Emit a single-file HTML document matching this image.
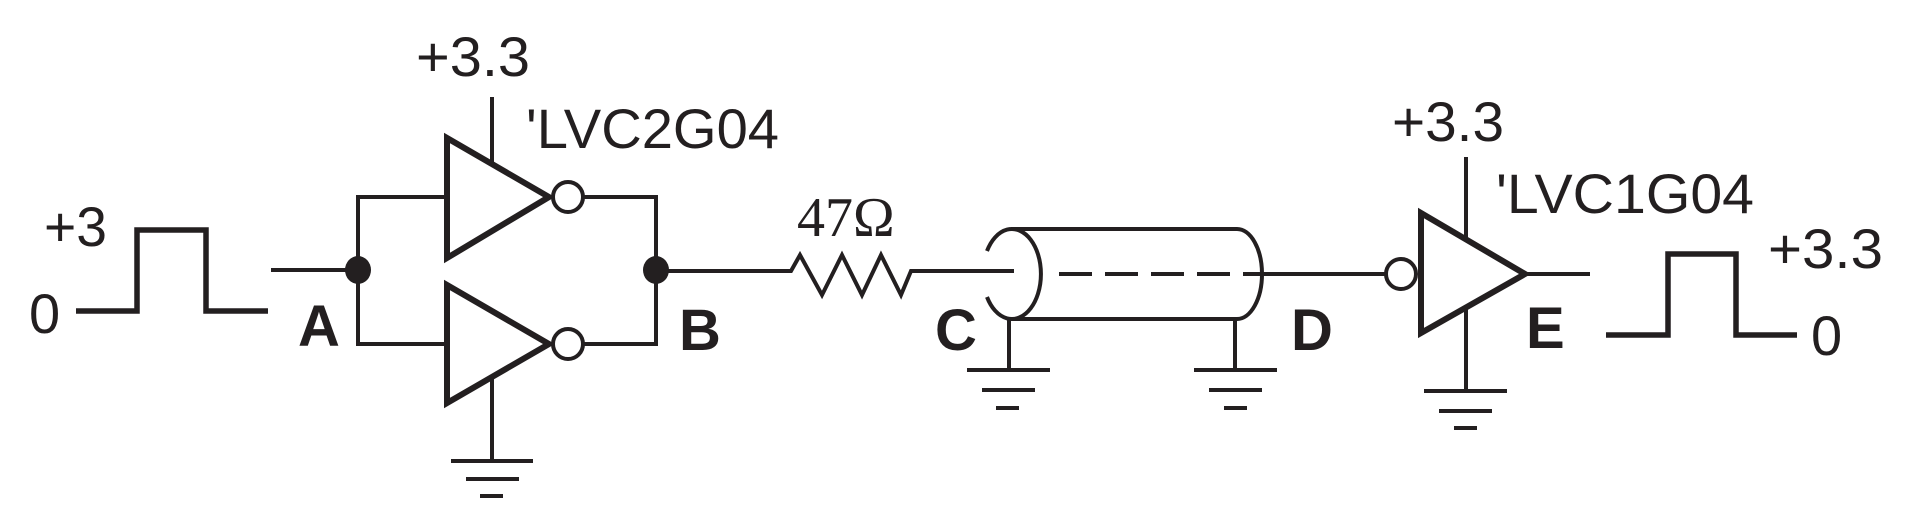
<!DOCTYPE html>
<html><head><style>
html,body{margin:0;padding:0;background:#fff;width:1907px;height:529px;overflow:hidden}
svg{display:block}
text{font-family:"Liberation Sans",sans-serif;fill:#231f20}
</style></head><body>
<svg width="1907" height="529" viewBox="0 0 1907 529" xmlns="http://www.w3.org/2000/svg">
<g transform="translate(0,3)">
<g fill="none" stroke="#231f20" stroke-width="4" stroke-linejoin="miter">
<polyline points="76,308 137,308 137,227 206,227 206,308 268,308" stroke-width="5.5"/>
<line x1="271" y1="267" x2="358" y2="267"/>
<polyline points="446,194 358,194 358,341 446,341"/>
<polygon points="447,135 447,255 549,194" stroke-width="6"/>
<circle cx="568" cy="194" r="15"/>
<polygon points="447,282 447,400 549,341" stroke-width="6"/>
<circle cx="568" cy="341" r="15"/>
<polyline points="583,194 656,194 656,341 583,341"/>
<line x1="492" y1="94" x2="492" y2="163"/>
<line x1="492" y1="373" x2="492" y2="458"/>
<line x1="451" y1="458" x2="533" y2="458"/>
<line x1="466" y1="476" x2="519" y2="476"/>
<line x1="480" y1="493" x2="503" y2="493"/>
<polyline points="656,268 791,268 800,252 822,292 842,252 862,292 881,252 901,292 911,268 1014,268"/>
<path d="M987,248 A29,45 0 1 1 987,294"/>
<path d="M1011,226 L1237,226 A25,45 0 0 1 1237,316 L1011,316"/>
<line x1="1059" y1="271" x2="1262" y2="271" stroke-dasharray="33,13"/>
<line x1="1262" y1="271" x2="1386" y2="271"/>
<line x1="1009" y1="316" x2="1009" y2="367"/>
<line x1="967" y1="367" x2="1050" y2="367"/>
<line x1="982" y1="387" x2="1035" y2="387"/>
<line x1="996" y1="405" x2="1019" y2="405"/>
<line x1="1235" y1="316" x2="1235" y2="367"/>
<line x1="1194" y1="367" x2="1277" y2="367"/>
<line x1="1209" y1="387" x2="1262" y2="387"/>
<line x1="1224" y1="405" x2="1247" y2="405"/>
<circle cx="1401" cy="271" r="15"/>
<polygon points="1421,210 1421,330 1525,271" stroke-width="6"/>
<line x1="1525" y1="271" x2="1590" y2="271"/>
<line x1="1466" y1="154" x2="1466" y2="236"/>
<line x1="1466" y1="306" x2="1466" y2="388"/>
<line x1="1424" y1="388" x2="1507" y2="388"/>
<line x1="1439" y1="408" x2="1492" y2="408"/>
<line x1="1454" y1="425" x2="1477" y2="425"/>
<polyline points="1606,332 1668,332 1668,251 1736,251 1736,332 1797,332" stroke-width="5.5"/>
</g>
<ellipse cx="358" cy="267" rx="13" ry="14" fill="#231f20"/>
<ellipse cx="656" cy="267" rx="13" ry="14" fill="#231f20"/>
<g font-size="56">
<text x="44" y="243" textLength="63" lengthAdjust="spacingAndGlyphs">+3</text>
<text x="29" y="330">0</text>
<text x="416" y="73" textLength="114" lengthAdjust="spacingAndGlyphs">+3.3</text>
<text x="526" y="145" textLength="253" lengthAdjust="spacingAndGlyphs">'LVC2G04</text>
<text x="1392" y="138" textLength="112" lengthAdjust="spacingAndGlyphs">+3.3</text>
<text x="1496" y="210" textLength="258" lengthAdjust="spacingAndGlyphs">'LVC1G04</text>
<text x="1768" y="265" textLength="115" lengthAdjust="spacingAndGlyphs">+3.3</text>
<text x="1811" y="352">0</text>
</g>
<text x="797" y="233" font-size="56" style="font-family:'Liberation Serif',serif">47Ω</text>
<g font-size="58" font-weight="bold">
<text x="298" y="343">A</text>
<text x="679" y="347">B</text>
<text x="935" y="347">C</text>
<text x="1291" y="347">D</text>
<text x="1526" y="345">E</text>
</g>
</g>
</svg>
</body></html>
